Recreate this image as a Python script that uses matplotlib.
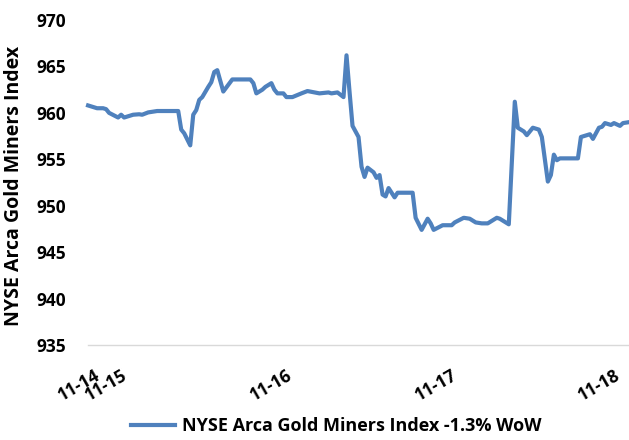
import matplotlib
matplotlib.use("Agg")
import matplotlib.pyplot as plt

# intraday index readings, step = sampling position along the category axis
steps = [0, 3, 5, 6, 7, 10, 11, 12, 15, 17, 18, 20, 23, 30, 31, 32, 34, 35, 36, 37,
         38, 40, 41, 42, 43, 45, 48, 54, 55, 56, 58, 59, 61, 62, 63, 65, 66, 68, 71, 73,
         77, 80, 81, 83, 85, 86, 87, 88, 90, 91, 92, 93, 95, 96, 97, 98, 99, 100, 102, 103,
         108, 109, 111, 113, 114, 115, 118, 121, 122, 125, 127, 129, 131, 133, 136, 137, 140, 141, 142, 143,
         145, 146, 148, 150, 151, 153, 154, 155, 156, 157, 163, 164, 166, 167, 168, 170, 171, 172, 174, 175,
         177, 178, 180]
values = [960.8, 960.5, 960.5, 960.4, 960.0, 959.5, 959.8, 959.5, 959.8, 959.85, 959.8, 960.05, 960.2, 960.2, 958.2, 957.8, 956.5, 959.8, 960.3, 961.4,
          961.7, 962.8, 963.3, 964.4, 964.6, 962.3, 963.6, 963.6, 963.2, 962.1, 962.5, 962.8, 963.2, 962.5, 962.1, 962.1, 961.7, 961.7, 962.1, 962.35,
          962.1, 962.2, 962.1, 962.2, 961.7, 966.2, 962.3, 958.6, 957.4, 954.2, 953.1, 954.1, 953.6, 953.0, 953.3, 951.2, 951.0, 951.9, 950.9, 951.4,
          951.4, 948.7, 947.4, 948.6, 948.1, 947.4, 947.9, 947.9, 948.2, 948.7, 948.6, 948.2, 948.1, 948.1, 948.7, 948.6, 948.0, 954.6, 961.2, 958.4,
          958.0, 957.6, 958.4, 958.2, 957.4, 952.6, 953.3, 955.5, 954.9, 955.1, 955.1, 957.4, 957.6, 957.7, 957.2, 958.4, 958.5, 958.9, 958.7, 958.9,
          958.6, 958.9, 959.0]

date_steps = [2, 11, 66, 121, 175]
date_labels = ["11-14", "11-15", "11-16", "11-17", "11-18"]
y_ticks = [935, 940, 945, 950, 955, 960, 965, 970]

series_name = "NYSE Arca Gold Miners Index -1.3% WoW"

plt.rcParams['font.family'] = ['Open Sans', 'DejaVu Sans']
plt.rcParams['font.weight'] = 'bold'

fig = plt.figure(figsize=(6.29, 4.4), dpi=100)
ax = fig.add_axes([0.140, 0.2159, 0.860, 0.7386])

ax.plot(steps, values, color='#4F81BD', linewidth=3.0, solid_joinstyle='round',
        label=series_name, clip_on=False)

ax.set_xlim(0, 180)
ax.set_ylim(935, 970)
ax.set_yticks(y_ticks)
ax.set_yticklabels([str(v) for v in y_ticks], fontsize=12.5, fontweight='bold')
ax.set_xticks(date_steps)
ax.set_xticklabels(date_labels, fontsize=12.5, fontweight='bold', rotation=30,
                   ha='right', va='top', rotation_mode='anchor')
ax.tick_params(axis='both', length=0)
ax.tick_params(axis='x', pad=15)
ax.tick_params(axis='y', pad=16)

for side in ['top', 'right', 'left']:
    ax.spines[side].set_visible(False)
ax.spines['bottom'].set_color('#D9D9D9')
ax.spines['bottom'].set_linewidth(1.0)

ax.set_ylabel("NYSE Arca Gold Miners Index", fontsize=14, fontweight='bold')
ax.yaxis.set_label_coords(-0.118, 0.49)

fig.legend(loc='center', bbox_to_anchor=(0.535, 0.032), frameon=False,
           prop={'size': 13, 'weight': 'bold'}, handlelength=2.4, handletextpad=0.4)

fig.savefig("out.png", dpi=100)
